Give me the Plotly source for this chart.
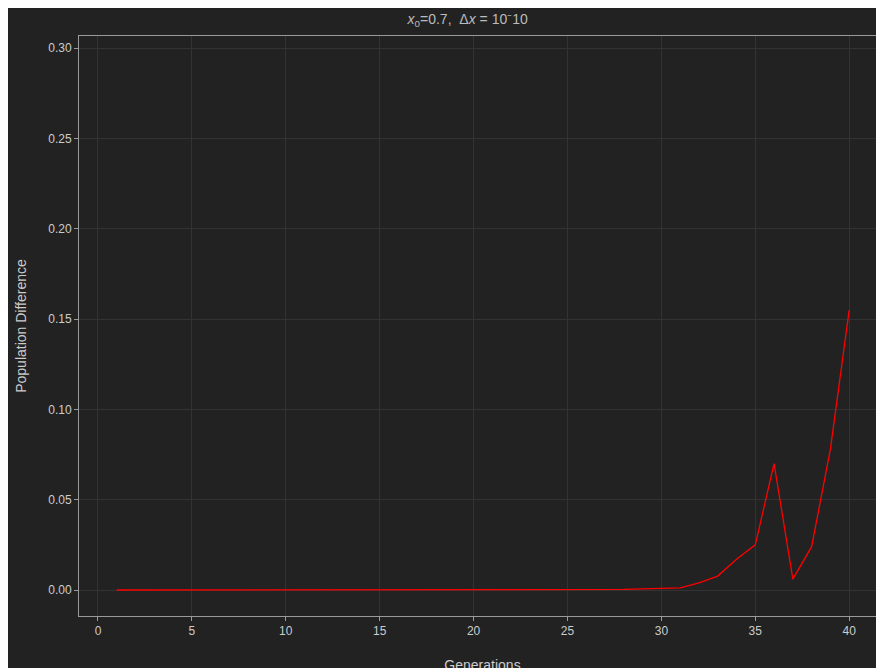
import plotly.graph_objects as go

generations = list(range(1, 41))
difference = [0.0] * 24 + [0.00005, 0.0001, 0.0002, 0.0003, 0.0006, 0.001,
                           0.0012, 0.004, 0.0077, 0.017, 0.025, 0.070,
                           0.006, 0.024, 0.078, 0.155, 0.294]

fig = go.Figure(go.Scatter(x=generations, y=difference, mode='lines',
                           line=dict(color='#ff0000', width=1.3)))

axis_style = dict(showgrid=True, gridcolor='#333333', zeroline=False,
                  showline=True, linecolor='#9a9a9a', mirror=True,
                  ticks='outside', tickcolor='#9a9a9a', ticklen=4,
                  automargin=False,
                  tickfont=dict(color='#cccccc', size=12))

fig.update_layout(
    width=884, height=668,
    paper_bgcolor='#222222', plot_bgcolor='#222222',
    font=dict(family='Liberation Sans, Arial', color='#cccccc'),
    margin=dict(l=71, r=6, t=28, b=60, autoexpand=False),
    showlegend=False,
    title=dict(text='<i>x</i><sub>0</sub>=0.7,  Δ<i>x</i> = 10⁻10', x=0.52, xanchor='center',
               y=0.99, yanchor='top', font=dict(size=14, color='#bbbbbb')),
    xaxis=dict(title=dict(text='Generations', font=dict(size=14), standoff=22),
               range=[-1.01, 41.96], tickvals=[0, 5, 10, 15, 20, 25, 30, 35, 40],
               **axis_style),
    yaxis=dict(title=dict(text='Population Difference', font=dict(size=14), standoff=18),
               range=[-0.0144, 0.3068], tickformat='.2f',
               tickvals=[0, 0.05, 0.1, 0.15, 0.2, 0.25, 0.3], **axis_style),
)
fig.write_html("out.html")
